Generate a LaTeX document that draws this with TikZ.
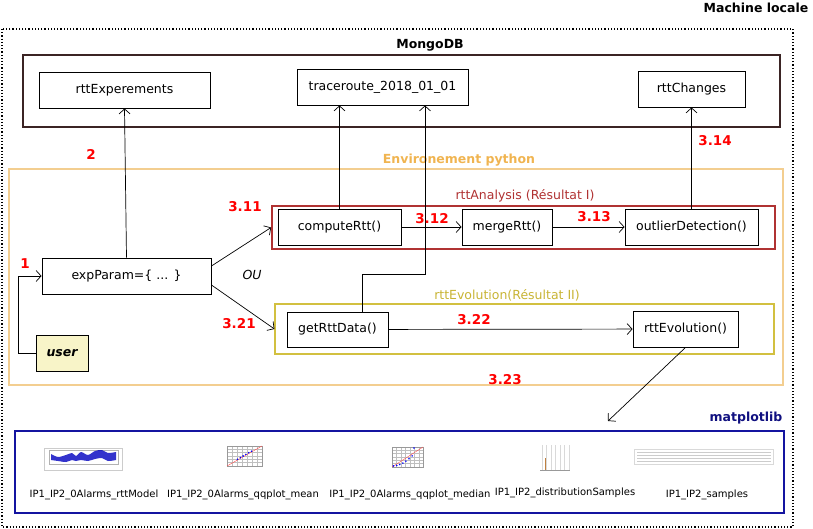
\documentclass[tikz,border=0pt]{standalone}
\usepackage{fontspec}
\setmainfont{DejaVu Sans}
\usepackage[HTML]{xcolor}
\usepackage{tikz}
\usetikzlibrary{positioning, arrows.meta}

\definecolor{mongo}{HTML}{3B2424}
\definecolor{analysis}{HTML}{B03232}
\definecolor{envpy}{HTML}{F3CE90}
\definecolor{envtitle}{HTML}{F0B450}
\definecolor{evol}{HTML}{D2C040}
\definecolor{evoltitle}{HTML}{C8B434}
\definecolor{plotblue}{HTML}{1414A0}
\definecolor{userfill}{HTML}{F8F4C8}

\tikzset{
  box/.style={draw, line width=0.9pt, minimum height=36pt, inner sep=0pt},
  frame/.style={draw, inner sep=0pt},
  num/.style={red, font=\fontsize{13.5}{15}\selectfont\bfseries},
  title/.style={font=\fontsize{12.5}{15}\selectfont\bfseries},
  small/.style={font=\fontsize{10}{12}\selectfont},
}

\begin{document}
\begin{tikzpicture}[x=1pt,y=-1pt,>={Straight Barb[length=5pt,width=11pt]},font=\fontsize{12.5}{15}\selectfont]
\useasboundingbox (0,0) rectangle (813,529);
% outer machine
\draw[line width=1.2pt,dotted] (2,29) rectangle (793,527);
\node[title] (machine) at (756,8) {Machine locale};
% MongoDB
\node[frame,draw=mongo,line width=1.8pt,minimum width=757pt,minimum height=72pt] (mongodb) at (401.5,91) {};
\node[title] (mongot) at (430,45) {MongoDB};
\node[box,minimum width=171pt] (rttexp) at (124.5,90) {rttExperements};
\node[box,minimum width=171pt] (trace) at (382.5,87) {traceroute\_2018\_01\_01};
\node[box,minimum width=107pt] (changes) at (691.5,89) {rttChanges};
% python
\node[frame,draw=envpy,line width=1.2pt,minimum width=774pt,minimum height=216pt] (python) at (396,277) {};
\node[title,envtitle] (pyt) at (459,160) {Environement python};
\node[frame,draw=analysis,line width=1.8pt,minimum width=503pt,minimum height=43pt] (analysis) at (523.5,227.5) {};
\node[analysis] (anat) at (525,196) {rttAnalysis (Résultat I)};
\node[frame,draw=evol,line width=1.1pt,minimum width=499pt,minimum height=50pt] (evolution) at (524.5,329) {};
\node[evoltitle] (evolt) at (507,295) {rttEvolution(Résultat II)};
\node[box,minimum width=123pt] (compute) at (339.5,227) {computeRtt()};
\node[box,minimum width=90pt] (merge) at (507,227) {mergeRtt()};
\node[box,minimum width=133pt] (outlier) at (691.5,227) {outlierDetection()};
\node[box,minimum width=169pt] (exp) at (126.5,276) {expParam=\{ ... \}};
\node[box,fill=userfill,minimum width=52pt] (user) at (62,353) {\bfseries\itshape user};
\node[box,minimum width=101pt,minimum height=35pt] (getdata) at (337.5,329.5) {getRttData()};
\node[box,minimum width=105pt] (rttevol) at (685.5,329) {rttEvolution()};
% matplotlib
\node[frame,draw=plotblue,line width=1.8pt,minimum width=769pt,minimum height=82pt] (matplot) at (399.5,472) {};
\node[title,plotblue!80!black] (matt) at (746,418) {matplotlib};
\coordinate (plotin) at (608,421);
\coordinate (bend) at (425,274);

% connectors
\draw[->,line width=0.7pt] (user.west) -- ++(-17,0) |- (exp.west);
\draw[->,line width=0.7pt] (exp.north) -- (rttexp.south);
\draw[->,line width=0.7pt] ([yshift=10pt]exp.east) -- (analysis.west);
\draw[->,line width=0.7pt] ([yshift=-9pt]exp.east) -- (evolution.west);
\draw[->,line width=0.7pt] (compute.north) -- (compute.north |- trace.south);
\draw[->,line width=0.7pt] (compute) -- (merge);
\draw[->,line width=0.7pt] (merge) -- (outlier);
\draw[->,line width=0.7pt] (outlier.north) -- (changes.south);
\draw[->,line width=0.7pt] ([xshift=25pt]getdata.north) |- (bend) -- (bend |- trace.south);
\draw[->,line width=0.7pt] (getdata) -- (rttevol);
\draw[->,line width=0.7pt] (rttevol.south) -- (plotin);

% step numbers
\node[num] (n1) at (25,264) {1};
\node[num] (n2) at (91,154) {2};
\node[num] (n311) at (245,207) {3.11};
\node[num] (n312) at (432,219) {3.12};
\node[num] (n313) at (594,217) {3.13};
\node[num] (n314) at (715,141) {3.14};
\node[num] (n321) at (239,324) {3.21};
\node[num] (n322) at (474,320) {3.22};
\node[num] (n323) at (505,380) {3.23};
\node[font=\fontsize{12.5}{15}\selectfont\itshape] (ou) at (252,275) {OU};

% thumbnails
\draw[black!20] (44,448) rectangle (122,470);
\draw[black!30] (49,450) rectangle (118,464);
\fill[blue!75!black,opacity=0.8] plot[smooth] coordinates{(51,454) (58,457) (66,455) (72,453) (76,456) (81,452) (88,455) (95,451) (102,450) (108,453) (116,452)}
  -- plot[smooth] coordinates{(116,460) (108,461) (102,458) (95,459) (88,461) (81,460) (76,461) (72,460) (66,462) (58,461) (51,460)} -- cycle;
\foreach \x in {1,...,6}{
\draw[black!25] (227,446+3.3*\x) -- (262,446+3.3*\x);
\draw[black!25] (227+5*\x,446) -- (227+5*\x,466);
}
\draw[black!40] (227,446) rectangle (262,466);
\draw[red!70] (227,466) -- (262,446);
\foreach \t in {0.3,0.38,...,0.75}{
\fill[blue] ({227+35*\t},{466-20*\t-0.8}) circle (0.9);
}
\foreach \x in {1,...,6}{
\draw[black!25] (392,447+3.3*\x) -- (423,447+3.3*\x);
\draw[black!25] (392+4.5*\x,447) -- (392+4.5*\x,467);
}
\draw[black!40] (392,447) rectangle (423,467);
\draw[red!70] (392,467) -- (423,447);
\foreach \t in {0.05,0.15,...,0.65}{
\fill[blue] ({392+31*\t},{467-20*\t*\t*1.2-1}) circle (0.9);
}
\fill[blue] (414,448) circle (0.9);
\foreach \x in {0,...,6}{
\draw[black!15] (542+4.5*\x,445) -- (542+4.5*\x,470);
}
\draw[black!40] (540,470) -- (570,470);
\draw[brown,line width=0.9pt] (545,458) -- (545,470);
\draw[black!15] (634,449) rectangle (773,464);
\foreach \y in {452,455,458,461}{
\draw[black!20] (637,\y) -- (771,\y);
}
\node[small] (l1) at (94,495) {IP1\_IP2\_0Alarms\_rttModel};
\node[small] (l2) at (243,495) {IP1\_IP2\_0Alarms\_qqplot\_mean};
\node[small] (l3) at (410,495) {IP1\_IP2\_0Alarms\_qqplot\_median};
\node[small] (l4) at (565,493) {IP1\_IP2\_distributionSamples};
\node[small] (l5) at (707,495) {IP1\_IP2\_samples};
\end{tikzpicture}
\end{document}
